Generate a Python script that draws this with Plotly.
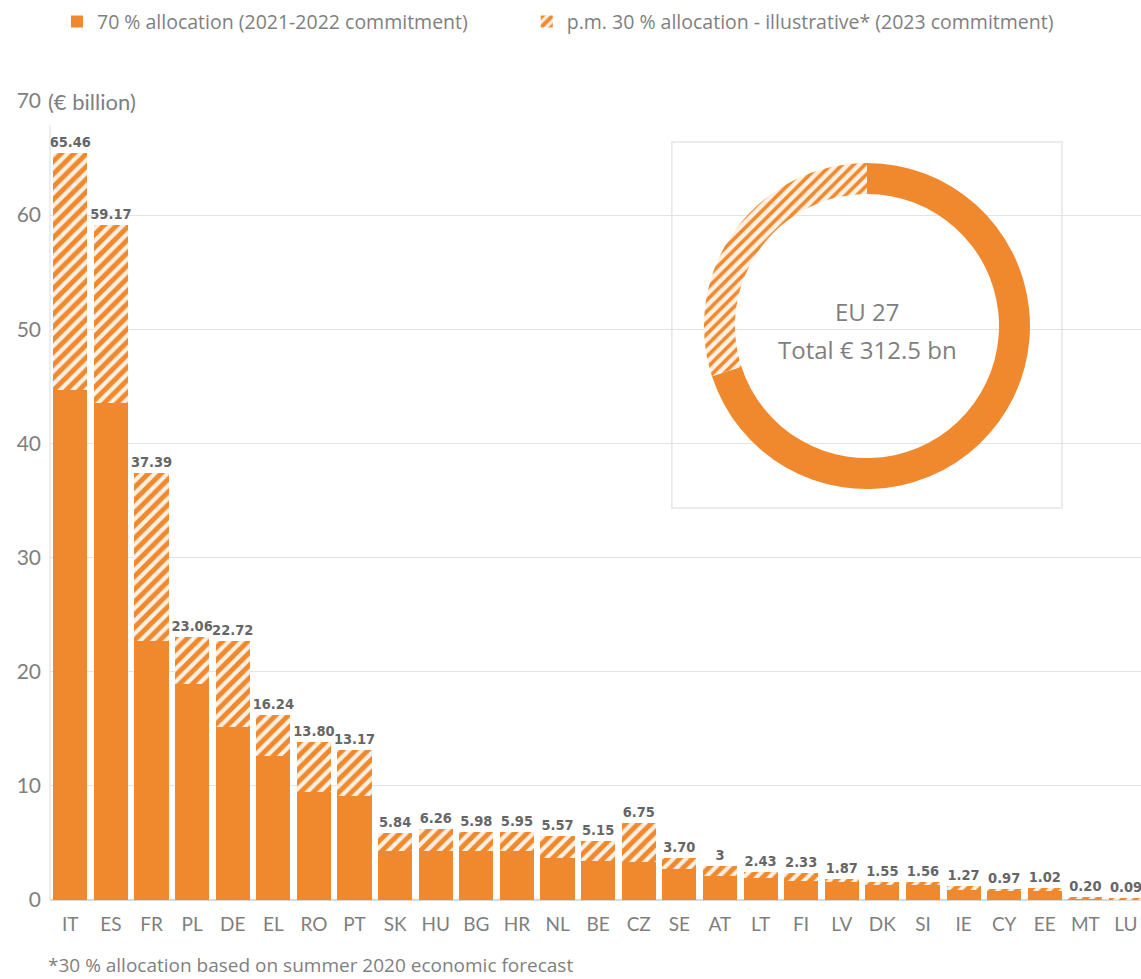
import plotly.graph_objects as go

countries = ["IT", "ES", "FR", "PL", "DE", "EL", "RO", "PT", "SK", "HU", "BG", "HR", "NL", "BE",
             "CZ", "SE", "AT", "LT", "FI", "LV", "DK", "SI", "IE", "CY", "EE", "MT", "LU"]
totals = [65.46, 59.17, 37.39, 23.06, 22.72, 16.24, 13.80, 13.17, 5.84, 6.26, 5.98, 5.95, 5.57, 5.15,
          6.75, 3.70, 3.00, 2.43, 2.33, 1.87, 1.55, 1.56, 1.27, 0.97, 1.02, 0.20, 0.09]
total_labels = ["65.46", "59.17", "37.39", "23.06", "22.72", "16.24", "13.80", "13.17", "5.84", "6.26",
                "5.98", "5.95", "5.57", "5.15", "6.75", "3.70", "3", "2.43", "2.33", "1.87", "1.55",
                "1.56", "1.27", "0.97", "1.02", "0.20", "0.09"]
alloc70 = [44.7, 43.5, 22.7, 18.9, 15.2, 12.6, 9.5, 9.1, 4.3, 4.3, 4.3, 4.3, 3.7, 3.4,
           3.3, 2.7, 2.1, 1.9, 1.65, 1.55, 1.3, 1.35, 0.85, 0.75, 0.75, 0.16, 0.08]
alloc30 = [round(t - a, 2) for t, a in zip(totals, alloc70)]

donut_labels = ["70 % allocation", "30 % allocation"]
donut_values = [218.75, 93.75]

ORANGE = "#F0892E"
CREAM = "#FEF0E3"
GREY = "#7f7f7f"

fig = go.Figure()
fig.add_trace(go.Bar(
    x=countries, y=alloc70, name="70 % allocation (2021-2022 commitment)",
    marker=dict(color=ORANGE, line=dict(width=0)), hoverinfo="x+y", legend="legend"))
fig.add_trace(go.Bar(
    x=countries, y=alloc30, name="p.m. 30 % allocation - illustrative* (2023 commitment)",
    marker=dict(color=CREAM, line=dict(width=0),
                pattern=dict(shape="/", fgcolor=ORANGE, bgcolor=CREAM, size=9, solidity=0.55,
                             fgopacity=1)),
    text=total_labels, textposition="outside", cliponaxis=False, constraintext="none",
    legend="legend2",
    textfont=dict(family="DejaVu Sans Condensed", size=14.5, color="#666666", weight="bold")))

fig.add_trace(go.Pie(
    labels=donut_labels, values=donut_values, hole=0.81, sort=False, direction="clockwise",
    rotation=0, textinfo="none", showlegend=False,
    marker=dict(colors=[ORANGE, CREAM],
                pattern=dict(shape=["", "/"], fgcolor=ORANGE, bgcolor=CREAM, size=8, solidity=0.45)),
    domain=dict(x=[0.5994, 0.8983], y=[0.5144, 0.9224])))

# inset box behind the donut
fig.add_shape(type="rect", xref="paper", yref="paper", x0=0.570, x1=0.9276, y0=0.4906, y1=0.9487,
              fillcolor="white", line=dict(color="#e6e6e6", width=1.5), layer="between")

fig.add_annotation(text="EU 27", xref="paper", yref="paper", x=0.7489, y=0.737,
                   xanchor="center", yanchor="middle",
                   showarrow=False, font=dict(family="Open Sans", size=24, color=GREY))
fig.add_annotation(text="Total € 312.5 bn", xref="paper", yref="paper", x=0.7489, y=0.6896,
                   xanchor="center", yanchor="middle",
                   showarrow=False, font=dict(family="Open Sans", size=24, color=GREY))

fig.add_annotation(text="(€ billion)", xref="paper", yref="paper", x=-0.004, y=1.0,
                   xanchor="left", yanchor="middle", showarrow=False, bgcolor="white",
                   font=dict(family="Lato", size=22, color=GREY))
fig.add_annotation(text="*30 % allocation based on summer 2020 economic forecast",
                   xref="paper", yref="paper", x=-0.004, y=-0.081, xanchor="left", yanchor="middle",
                   showarrow=False, font=dict(family="Open Sans", size=19, color=GREY))

legend_font = dict(family="Open Sans", size=19.5, color=GREY)
fig.update_layout(
    width=1141, height=979, barmode="stack", bargap=0.16,
    paper_bgcolor="white", plot_bgcolor="white",
    margin=dict(l=50, r=0, t=101, b=79),
    font=dict(family="Open Sans", color=GREY),
    legend=dict(orientation="h", x=0.0064, xanchor="left", y=1.099, yanchor="middle", font=legend_font),
    legend2=dict(orientation="h", x=0.437, xanchor="left", y=1.099, yanchor="middle", font=legend_font),
)
fig.update_xaxes(range=[-0.5, 26.37], showline=False, ticks="", ticklabelstandoff=11,
                 tickfont=dict(family="Lato", size=19, color=GREY))
fig.update_yaxes(range=[0, 70], dtick=10, showgrid=True, gridcolor="#e3e3e3", gridwidth=1.2,
                 zeroline=True, zerolinecolor="#d9d9d9", zerolinewidth=1.5,
                 ticks="", ticklabelstandoff=8,
                 tickfont=dict(family="Lato", size=21, color=GREY))
fig.add_shape(type="line", xref="paper", yref="paper", x0=0, x1=0, y0=0, y1=0.97,
              line=dict(color="#e3e3e3", width=1.2))

# drop the default page margin so the figure fills the window exactly
fig.write_html("out.html", config={"displayModeBar": False},
               post_script="document.body.style.margin='0';"
                           "document.body.style.overflow='hidden';")
